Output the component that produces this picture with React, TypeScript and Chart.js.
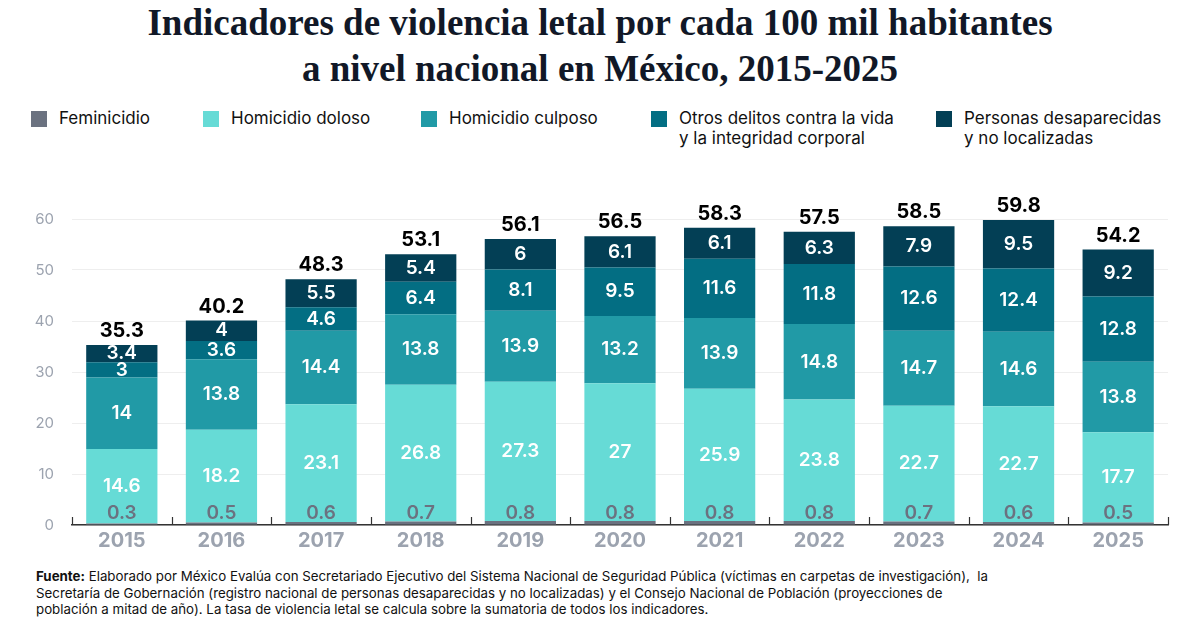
import { useEffect, useRef } from "react";
import { Chart, registerables } from "chart.js";

Chart.register(...registerables);

const YEARS = ["2015", "2016", "2017", "2018", "2019", "2020", "2021", "2022", "2023", "2024", "2025"];
const FEMINICIDIO = [0.3, 0.5, 0.6, 0.7, 0.8, 0.8, 0.8, 0.8, 0.7, 0.6, 0.5];
const HOMICIDIO_DOLOSO = [14.6, 18.2, 23.1, 26.8, 27.3, 27, 25.9, 23.8, 22.7, 22.7, 17.7];
const HOMICIDIO_CULPOSO = [14, 13.8, 14.4, 13.8, 13.9, 13.2, 13.9, 14.8, 14.7, 14.6, 13.8];
const OTROS_DELITOS = [3, 3.6, 4.6, 6.4, 8.1, 9.5, 11.6, 11.8, 12.6, 12.4, 12.8];
const DESAPARECIDAS = [3.4, 4, 5.5, 5.4, 6, 6.1, 6.1, 6.3, 7.9, 9.5, 9.2];
const TOTALS = [35.3, 40.2, 48.3, 53.1, 56.1, 56.5, 58.3, 57.5, 58.5, 59.8, 54.2];

const SERIES = [
	{ label: "Feminicidio", data: FEMINICIDIO, color: "#6b7280" },
	{ label: "Homicidio doloso", data: HOMICIDIO_DOLOSO, color: "#66dbd6" },
	{ label: "Homicidio culposo", data: HOMICIDIO_CULPOSO, color: "#219aa6" },
	{ label: "Otros delitos contra la vida\ny la integridad corporal", data: OTROS_DELITOS, color: "#036e83" },
	{ label: "Personas desaparecidas\ny no localizadas", data: DESAPARECIDAS, color: "#033f55" },
];

const LEGEND_X = [31, 203, 421, 651, 936];
const SANS = "Inter, 'Noto Sans', sans-serif";

const labelsPlugin = {
	id: "stackLabels",
	afterDatasetsDraw(chart: Chart) {
		const ctx = chart.ctx;
		ctx.save();
		ctx.textAlign = "center";
		ctx.textBaseline = "middle";
		chart.data.datasets.forEach((ds, di) => {
			const meta = chart.getDatasetMeta(di);
			meta.data.forEach((bar: any, i) => {
				const v = ds.data[i] as number;
				ctx.font = `600 19px ${SANS}`;
				if (di === 0) {
					ctx.fillStyle = "#6b7280";
					ctx.fillText(String(v), bar.x, bar.base - 11);
				} else {
					ctx.fillStyle = "#ffffff";
					ctx.fillText(String(v), bar.x, (bar.y + bar.base) / 2);
				}
			});
		});
		const top = chart.getDatasetMeta(chart.data.datasets.length - 1);
		ctx.fillStyle = "#000000";
		ctx.font = `700 20px ${SANS}`;
		top.data.forEach((bar: any, i) => {
			ctx.fillText(String(TOTALS[i]), bar.x, bar.y - 14);
		});
		// short ticks on the x axis between the years
		const x = chart.scales.x;
		const n = YEARS.length;
		ctx.strokeStyle = "#333333";
		ctx.lineWidth = 1.2;
		for (let i = 0; i <= n; i++) {
			const px = Math.round(x.left + (i * x.width) / n) + 0.5;
			ctx.beginPath();
			ctx.moveTo(px, x.top - 8);
			ctx.lineTo(px, x.top);
			ctx.stroke();
		}
		ctx.restore();
	},
};

function StackedChart() {
	const canvasRef = useRef<HTMLCanvasElement | null>(null);

	useEffect(() => {
		if (!canvasRef.current) return;
		const chart = new Chart(canvasRef.current, {
			type: "bar",
			data: {
				labels: YEARS,
				datasets: SERIES.map((s) => ({
					label: s.label,
					data: s.data,
					backgroundColor: s.color,
					borderWidth: 0,
					barPercentage: 0.715,
					categoryPercentage: 1,
				})),
			},
			options: {
				animation: false,
				responsive: false,
				layout: { padding: { top: 54, right: 32, left: 0, bottom: 0 } },
				plugins: { legend: { display: false }, tooltip: { enabled: false } },
				scales: {
					x: {
						stacked: true,
						grid: { display: false },
						border: { display: true, color: "#333333", width: 1.5 },
						ticks: { color: "#9ca3af", font: { family: SANS, size: 20, weight: 700 }, padding: -4 },
						afterFit: (s: any) => {
							s.height = 40;
						},
					},
					y: {
						stacked: true,
						min: 0,
						max: 60,
						grid: { color: "#eeeeee", drawTicks: false },
						border: { display: false },
						ticks: { stepSize: 10, color: "#9ca3af", font: { family: SANS, size: 15 }, padding: 18 },
						afterFit: (s: any) => {
							s.width = 72;
						},
					},
				},
			},
			plugins: [labelsPlugin],
		});
		return () => chart.destroy();
	}, []);

	return <canvas ref={canvasRef} width={1200} height={400} style={{ position: "absolute", left: 0, top: 165 }} />;
}

export default function App() {
	return (
		<div style={{ position: "fixed", inset: 0, width: 1200, height: 630, background: "#fff", overflow: "hidden", fontFamily: SANS }}>
			<div
				style={{
					position: "absolute",
					top: 0,
					left: 0,
					width: 1200,
					textAlign: "center",
					fontFamily: "'Liberation Serif', 'DejaVu Serif', serif",
					fontWeight: 700,
					fontSize: 37,
					lineHeight: "46px",
					color: "#111827",
				}}
			>
				Indicadores de violencia letal por cada 100 mil habitantes
				<br />a nivel nacional en México, 2015-2025
			</div>
			{SERIES.map((s, i) => (
				<div key={s.label} style={{ position: "absolute", left: LEGEND_X[i], top: 111 }}>
					<div style={{ position: "absolute", left: 0, top: 0, width: 16, height: 16, background: s.color }} />
					<div style={{ position: "absolute", left: 28, top: -3, fontSize: 17, lineHeight: "20px", color: "#111", whiteSpace: "pre" }}>
						{s.label}
					</div>
				</div>
			))}
			<StackedChart />
			<div style={{ position: "absolute", left: 36, top: 568, fontSize: 13.3, lineHeight: "16.5px", color: "#111", whiteSpace: "nowrap" }}>
				<b>Fuente:</b> Elaborado por México Evalúa con Secretariado Ejecutivo del Sistema Nacional de Seguridad Pública (víctimas en carpetas de investigación),&nbsp; la
				<br />
				Secretaría de Gobernación (registro nacional de personas desaparecidas y no localizadas) y el Consejo Nacional de Población (proyecciones de
				<br />
				población a mitad de año). La tasa de violencia letal se calcula sobre la sumatoria de todos los indicadores.
			</div>
		</div>
	);
}
